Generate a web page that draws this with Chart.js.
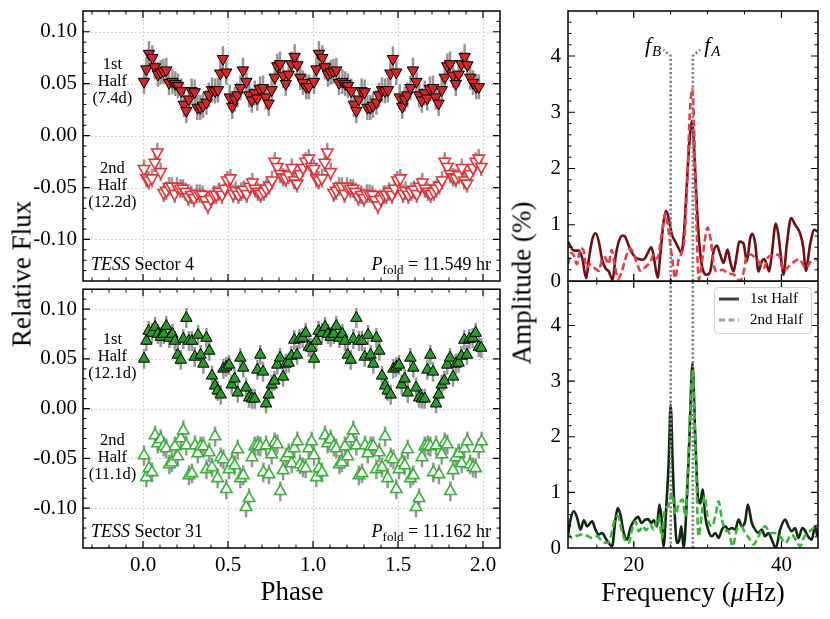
<!DOCTYPE html>
<html>
<head>
<meta charset="utf-8">
<script src="https://cdn.jsdelivr.net/npm/chart.js@4.4.1/dist/chart.umd.min.js"></script>
<style>
  body { margin: 0; background: #fff; }
  #page { position: relative; width: 830px; height: 619px; overflow: hidden; background: #fff; font-family: "Liberation Serif", serif; }
  canvas { position: absolute; }
  .title { position: absolute; font-size: 27px; white-space: nowrap; transform: translate(-50%, -50%); color: #000; }
  .rot { transform: translate(-50%, -50%) rotate(-90deg); }
</style>
</head>
<body>
<div id="page">
  <canvas id="fluxS4" width="520" height="300" style="left:0;top:0"></canvas>
  <canvas id="fluxS31" width="520" height="338" style="left:0;top:281px"></canvas>
  <canvas id="ampS4" width="310" height="300" style="left:520px;top:0"></canvas>
  <canvas id="ampS31" width="310" height="338" style="left:520px;top:281px"></canvas>
  <div class="title rot" style="left:22px;top:274px">Relative Flux</div>
  <div class="title" style="left:292px;top:591px">Phase</div>
  <div class="title rot" style="left:522px;top:283px">Amplitude (%)</div>
  <div class="title" style="left:693px;top:592px">Frequency (<i>μ</i>Hz)</div>
</div>
<script>
// tick labels
const phaseTicks = [0, 0.5, 1, 1.5, 2];
const fluxTicks = [-0.10, -0.05, 0, 0.05, 0.10];
const freqTicks = [20, 40];
const ampTicks = [0, 1, 2, 3, 4];

// Sector 4 folded light curves (one cycle)
const phaseS4a = [0.006,0.02,0.035,0.055,0.07,0.088,0.104,0.12,0.137,0.153,0.173,0.19,0.206,0.225,0.24,0.255,0.27,0.286,0.304,0.32,0.337,0.353,0.373,0.388,0.406,0.424,0.441,0.455,0.47,0.49,0.51,0.525,0.54,0.555,0.573,0.588,0.608,0.624,0.64,0.657,0.672,0.688,0.706,0.722,0.739,0.757,0.775,0.79,0.806,0.824,0.84,0.857,0.873,0.892,0.908,0.925,0.941,0.96,0.976];
const fluxS4a = [0.052,0.064,0.079,0.075,0.066,0.059,0.061,0.062,0.063,0.051,0.052,0.050,0.048,0.043,0.030,0.024,0.035,0.043,0.042,0.027,0.027,0.029,0.032,0.039,0.044,0.043,0.044,0.060,0.074,0.061,0.037,0.028,0.035,0.039,0.046,0.063,0.052,0.039,0.034,0.041,0.036,0.045,0.046,0.037,0.031,0.044,0.056,0.067,0.069,0.058,0.050,0.059,0.069,0.076,0.068,0.056,0.051,0.047,0.047];
const errS4a = 0.012;
const phaseS4b = [0.006,0.02,0.033,0.053,0.069,0.084,0.104,0.122,0.137,0.153,0.17,0.186,0.2,0.22,0.235,0.25,0.267,0.284,0.3,0.316,0.333,0.35,0.365,0.382,0.398,0.416,0.431,0.447,0.465,0.48,0.496,0.514,0.53,0.545,0.561,0.578,0.594,0.61,0.627,0.643,0.659,0.676,0.692,0.71,0.725,0.743,0.759,0.775,0.79,0.808,0.824,0.84,0.857,0.875,0.89,0.906,0.922,0.941,0.957,0.975,0.99];
const fluxS4b = [-0.032,-0.041,-0.043,-0.041,-0.026,-0.016,-0.035,-0.055,-0.053,-0.049,-0.049,-0.056,-0.049,-0.051,-0.051,-0.054,-0.059,-0.057,-0.060,-0.056,-0.056,-0.057,-0.062,-0.067,-0.061,-0.057,-0.057,-0.054,-0.057,-0.051,-0.043,-0.041,-0.056,-0.053,-0.057,-0.054,-0.052,-0.056,-0.049,-0.045,-0.051,-0.054,-0.056,-0.054,-0.051,-0.048,-0.043,-0.025,-0.030,-0.037,-0.040,-0.041,-0.038,-0.031,-0.043,-0.046,-0.037,-0.031,-0.025,-0.022,-0.030];
const errS4b = 0.009;

// Sector 31
const phaseS31a = [0.006,0.02,0.033,0.053,0.071,0.088,0.104,0.122,0.137,0.155,0.173,0.188,0.204,0.222,0.237,0.255,0.27,0.288,0.304,0.324,0.339,0.355,0.373,0.39,0.406,0.424,0.439,0.457,0.473,0.49,0.506,0.522,0.539,0.557,0.573,0.59,0.606,0.624,0.641,0.657,0.673,0.69,0.706,0.724,0.739,0.757,0.773,0.79,0.806,0.824,0.84,0.857,0.873,0.89,0.906,0.92,0.939,0.957,0.975,0.99];
const fluxS31a = [0.050,0.068,0.078,0.076,0.082,0.075,0.072,0.075,0.083,0.071,0.075,0.068,0.054,0.049,0.070,0.091,0.068,0.068,0.052,0.074,0.054,0.045,0.071,0.058,0.033,0.023,0.018,0.014,0.040,0.042,0.044,0.024,0.030,0.016,0.051,0.041,0.021,0.011,0.010,0.010,0.039,0.054,0.037,0.005,0.014,0.024,0.028,0.044,0.051,0.032,0.045,0.046,0.053,0.069,0.054,0.070,0.071,0.076,0.062,0.061];
const errS31a = 0.010;
const phaseS31b = [0.006,0.02,0.035,0.053,0.071,0.086,0.104,0.122,0.137,0.155,0.17,0.188,0.204,0.222,0.237,0.255,0.27,0.288,0.306,0.322,0.339,0.355,0.373,0.39,0.406,0.424,0.439,0.457,0.473,0.49,0.506,0.524,0.539,0.557,0.573,0.59,0.606,0.624,0.641,0.657,0.675,0.69,0.708,0.724,0.741,0.757,0.775,0.79,0.808,0.824,0.841,0.857,0.875,0.89,0.908,0.924,0.941,0.957,0.975,0.992];
const fluxS31b = [-0.047,-0.069,-0.060,-0.064,-0.027,-0.035,-0.031,-0.038,-0.040,-0.056,-0.054,-0.038,-0.048,-0.030,-0.022,-0.037,-0.067,-0.065,-0.037,-0.045,-0.038,-0.038,-0.061,-0.044,-0.059,-0.028,-0.070,-0.049,-0.051,-0.081,-0.061,-0.054,-0.057,-0.041,-0.070,-0.067,-0.099,-0.090,-0.049,-0.038,-0.037,-0.038,-0.064,-0.037,-0.066,-0.046,-0.034,-0.036,-0.083,-0.062,-0.049,-0.045,-0.055,-0.040,-0.033,-0.056,-0.059,-0.060,-0.040,-0.033];
const errS31b = 0.010;

// amplitude spectra (frequency in uHz, amplitude in %)
const freqS4a = [11.08,11.44,11.89,12.57,13.02,13.56,13.92,14.37,14.82,15.27,15.72,16.17,16.62,17.16,17.52,17.97,18.51,18.87,19.32,19.77,20.23,20.68,21.35,21.80,22.39,22.70,23.24,23.60,24.05,24.37,24.73,25.18,25.63,26.08,26.44,26.80,27.10,27.50,27.90,28.30,28.60,29.00,29.40,29.90,30.36,30.81,31.26,31.71,32.16,32.70,33.06,33.51,33.96,34.28,34.86,35.32,35.77,36.08,36.44,36.89,37.34,37.66,38.02,38.33,38.69,39.23,39.59,40.05,40.27,40.72,41.31,41.85,42.52,42.97,43.29,43.87,44.46,44.86];
const ampS4a = [0.70,0.62,0.54,0.54,0.41,0.05,0.38,0.73,0.85,0.70,0.38,0.23,0.17,0.02,0.41,0.70,0.81,0.78,0.63,0.50,0.42,0.39,0.38,0.47,0.60,0.44,0.06,0.47,1.06,1.25,1.12,0.82,0.70,0.58,0.50,0.85,1.50,2.40,2.85,2.00,1.20,0.50,0.18,0.11,0.17,0.52,0.63,0.47,0.32,0.56,0.35,0.17,0.47,0.70,0.67,0.35,0.76,0.84,0.67,0.17,0.35,0.39,0.29,0.17,0.47,1.02,0.82,0.29,0.11,0.64,1.12,1.00,0.85,0.59,0.18,0.64,0.91,0.88];
const freqS4b = [11.10,11.50,11.90,12.30,12.80,13.20,13.60,14.00,14.50,15.00,15.30,15.70,16.10,16.60,17.00,17.50,17.90,18.40,19.00,19.50,20.00,20.50,20.90,21.60,22.30,22.70,23.20,23.80,24.30,24.70,25.20,25.60,26.10,26.50,26.90,27.30,27.60,27.95,28.20,28.50,28.80,29.20,29.60,30.00,30.40,30.90,31.30,32.00,32.70,33.60,34.40,34.90,35.30,35.80,36.30,36.90,37.60,38.30,39.00,39.60,40.30,41.00,41.70,42.40,42.80,43.30,44.00,44.60,44.90];
const ampS4b = [0.30,0.50,0.45,0.30,0.58,0.55,0.23,0.30,0.25,0.20,0.18,0.39,0.42,0.30,0.55,0.23,0.04,0.18,0.45,0.58,0.48,0.29,0.18,0.25,0.35,0.47,0.40,0.85,1.20,0.90,0.40,0.05,0.40,0.50,0.80,2.00,3.00,3.42,2.60,1.00,0.02,0.30,0.70,0.95,0.75,0.25,0.17,0.20,0.14,0.11,0.00,0.17,0.45,0.47,0.43,0.35,0.23,0.44,0.45,0.47,0.18,0.26,0.34,0.39,0.32,0.23,0.35,0.39,0.37];
const freqS31a = [11.08,11.44,11.89,12.34,12.79,13.24,13.69,14.37,14.82,15.27,15.72,16.17,16.62,17.07,17.52,17.84,18.20,18.65,19.10,19.55,20.00,20.59,21.04,21.58,21.94,22.39,22.70,23.15,23.47,23.74,24.05,24.41,24.73,25.00,25.27,25.54,25.86,26.17,26.44,26.76,27.21,27.52,27.95,28.33,28.70,29.01,29.32,29.68,30.14,30.59,31.04,31.49,31.94,32.39,32.84,33.29,33.74,34.19,34.64,35.09,35.45,35.99,36.44,36.89,37.34,37.79,38.24,38.69,39.23,39.82,40.50,40.95,41.40,41.85,42.30,42.84,43.11,43.65,44.10,44.56,44.86];
const ampS31a = [0.21,0.51,0.66,0.54,0.33,0.50,0.39,0.48,0.33,0.24,0.27,0.18,0.09,0.03,0.51,0.72,0.60,0.27,0.15,0.36,0.48,0.56,0.45,0.51,0.52,0.45,0.50,0.39,0.78,0.57,0.03,0.75,1.53,2.58,1.53,0.63,0.09,0.15,0.39,0.00,0.93,1.90,3.32,2.00,0.90,0.80,1.05,0.57,0.30,0.21,0.27,0.18,0.33,0.39,0.33,0.36,0.33,0.51,0.39,0.48,0.78,0.45,0.33,0.27,0.33,0.21,0.27,0.15,0.00,0.33,0.51,0.39,0.30,0.36,0.18,0.36,0.33,0.20,0.15,0.39,0.21];
const freqS31b = [11.08,11.67,12.34,13.02,13.69,14.37,15.05,15.72,16.40,16.85,17.43,17.88,18.33,18.78,19.32,19.77,20.23,20.68,21.22,21.67,22.25,22.70,23.38,23.83,24.19,24.64,25.18,25.63,26.08,26.62,26.98,27.34,27.95,28.40,28.78,29.23,29.59,30.05,30.59,31.13,31.49,31.94,32.39,32.93,33.38,33.96,34.55,35.09,35.77,36.22,36.89,37.79,38.47,39.14,39.82,40.50,41.40,42.07,42.52,43.11,44.10,44.86];
const ampS31b = [0.27,0.18,0.22,0.24,0.22,0.18,0.21,0.12,0.09,0.18,0.51,0.57,0.33,0.15,0.09,0.33,0.48,0.30,0.39,0.32,0.42,0.33,0.57,0.18,0.69,0.75,0.99,0.60,0.78,0.87,0.57,1.40,3.20,1.60,0.21,0.63,0.93,0.51,0.39,0.63,0.84,0.51,0.33,0.27,0.03,0.33,0.39,0.27,0.15,0.06,0.21,0.39,0.27,0.27,0.21,0.09,0.24,0.12,0.03,0.21,0.33,0.42];

const fB = 25.0, fA = 28.0;   // marked frequencies

const serif = '"Liberation Serif", serif';
const tickFont = { family: '"Liberation Serif"', size: 21 };

// each point is shown twice: at its phase and one cycle later
function folded(phase, flux) {
  const pts = phase.map((p, i) => ({ x: p, y: flux[i] }));
  return pts.concat(phase.map((p, i) => ({ x: p + 1, y: flux[i] })));
}
function spec(freq, amp) {
  return freq.map((f, i) => ({ x: f, y: amp[i] }));
}
function steps(start, stop, step, skip) {
  const out = [];
  for (let v = start; v <= stop + 1e-9; v += step) {
    const r = +v.toFixed(4);
    if (!skip.some(s => Math.abs(s - r) < 1e-6)) out.push(r);
  }
  return out;
}

function axis(min, max, ticks, fmt, extra) {
  return Object.assign({
    type: 'linear', min, max,
    grid: { display: false, drawTicks: false },
    border: { display: false },
    afterBuildTicks: s => { s.ticks = ticks.map(v => ({ value: v })); },
    ticks: { font: tickFont, color: '#000', padding: 6, autoSkip: false, maxRotation: 0, callback: fmt }
  }, extra);
}
const yWidth = w => s => { s.width = w; s.paddingTop = 0; s.paddingBottom = 0; };
const xHeight = h => s => { s.height = h; s.paddingLeft = 0; s.paddingRight = 0; };

// frame, inward ticks on all sides, optional dotted grid, panel notes
function framePlugin(cfg) {
  return {
    id: 'frame',
    beforeDatasetsDraw(chart) {
      if (!cfg.grid) return;
      const { ctx, chartArea: a, scales: { x, y } } = chart;
      ctx.save();
      ctx.strokeStyle = '#c6c6c6';
      ctx.lineWidth = 1;
      ctx.setLineDash([1.5, 2.5]);
      cfg.xMajor.forEach(v => {
        const px = Math.round(x.getPixelForValue(v)) + 0.5;
        ctx.beginPath(); ctx.moveTo(px, a.top); ctx.lineTo(px, a.bottom); ctx.stroke();
      });
      cfg.yMajor.forEach(v => {
        const py = Math.round(y.getPixelForValue(v)) + 0.5;
        ctx.beginPath(); ctx.moveTo(a.left, py); ctx.lineTo(a.right, py); ctx.stroke();
      });
      ctx.restore();
    },
    afterDraw(chart) {
      const { ctx, chartArea: a, scales: { x, y } } = chart;
      ctx.save();
      ctx.strokeStyle = '#000';
      const inX = v => v > x.min + 1e-9 && v < x.max - 1e-9;
      const inY = v => v > y.min + 1e-9 && v < y.max - 1e-9;
      [[cfg.xMajor, 7, 1.2], [cfg.xMinor, 3.5, 1]].forEach(([vals, len, w]) => {
        ctx.lineWidth = w;
        vals.filter(inX).forEach(v => {
          const px = x.getPixelForValue(v);
          ctx.beginPath();
          ctx.moveTo(px, a.bottom); ctx.lineTo(px, a.bottom - len);
          ctx.moveTo(px, a.top); ctx.lineTo(px, a.top + len);
          ctx.stroke();
        });
      });
      [[cfg.yMajor, 7, 1.2], [cfg.yMinor, 3.5, 1]].forEach(([vals, len, w]) => {
        ctx.lineWidth = w;
        vals.filter(inY).forEach(v => {
          const py = y.getPixelForValue(v);
          ctx.beginPath();
          ctx.moveTo(a.left, py); ctx.lineTo(a.left + len, py);
          ctx.moveTo(a.right, py); ctx.lineTo(a.right - len, py);
          ctx.stroke();
        });
      });
      ctx.lineWidth = 1.5;
      ctx.strokeRect(a.left, a.top, a.right - a.left, a.bottom - a.top);
      if (cfg.notes) cfg.notes(ctx, a, x, y);
      ctx.restore();
    }
  };
}

const errorBars = {
  id: 'errorBars',
  beforeDatasetsDraw(chart) {
    const { ctx, chartArea: a, scales: { x, y } } = chart;
    ctx.save();
    ctx.beginPath(); ctx.rect(a.left, a.top, a.right - a.left, a.bottom - a.top); ctx.clip();
    ctx.strokeStyle = 'rgba(110,110,110,0.72)';
    ctx.lineWidth = 2.5;
    chart.data.datasets.forEach(ds => {
      ds.data.forEach(p => {
        const px = x.getPixelForValue(p.x);
        ctx.beginPath();
        ctx.moveTo(px, y.getPixelForValue(p.y - ds.err));
        ctx.lineTo(px, y.getPixelForValue(p.y + ds.err));
        ctx.stroke();
      });
    });
    ctx.restore();
  }
};

function halfLabels(ctx, x, y, lines, level) {
  ctx.fillStyle = '#000';
  ctx.font = '16.5px ' + serif;
  ctx.textAlign = 'center';
  ctx.textBaseline = 'middle';
  const px = x.getPixelForValue(-0.18), py = y.getPixelForValue(level);
  lines.forEach((t, i) => ctx.fillText(t, px, py + (i - 1) * 17));
}
function sectorLabel(ctx, a, sector, period) {
  const base = a.bottom - 11;
  ctx.fillStyle = '#000';
  ctx.textAlign = 'left';
  ctx.textBaseline = 'alphabetic';
  ctx.font = 'italic 18px ' + serif;
  ctx.fillText('TESS', a.left + 8, base);
  const w = ctx.measureText('TESS ').width;
  ctx.font = '18px ' + serif;
  ctx.fillText(sector, a.left + 8 + w, base);
  // P_fold = ... hr, right aligned
  const rest = ' = ' + period + ' hr';
  ctx.font = '18px ' + serif; const wRest = ctx.measureText(rest).width;
  ctx.font = '13px ' + serif; const wSub = ctx.measureText('fold').width;
  ctx.font = 'italic 18px ' + serif; const wP = ctx.measureText('P').width;
  let xp = a.right - 9 - wRest - wSub - wP;
  ctx.fillText('P', xp, base); xp += wP;
  ctx.font = '13px ' + serif; ctx.fillText('fold', xp, base + 4); xp += wSub;
  ctx.font = '18px ' + serif; ctx.fillText(rest, xp, base);
}

const phaseMinor = steps(-0.3, 2.1, 0.1, phaseTicks);
const fluxMinor = steps(-0.14, 0.12, 0.01, fluxTicks);
const freqMinor = [15, 25, 30, 35];
const ampMinor = steps(0, 4.8, 0.2, ampTicks);

const fmtFlux = v => (Math.abs(v) < 1e-9 ? 0 : v).toFixed(2);
const fmtPhase = v => v.toFixed(1);
const fmtInt = v => String(Math.round(v));

const base = {
  responsive: false, animation: false, events: [],
  plugins: { legend: { display: false }, tooltip: { enabled: false } }
};

function fluxChart(id, sets, last, notes) {
  return new Chart(document.getElementById(id), {
    type: 'scatter',
    data: { datasets: sets },
    options: Object.assign({}, base, {
      layout: { padding: { left: 0, top: last ? 0 : 11, right: 20, bottom: last ? 0 : 19 } },
      scales: {
        x: axis(-0.353, 2.1, phaseTicks, fmtPhase, last
          ? { afterFit: xHeight(71), ticks: { font: tickFont, color: '#000', padding: 5, autoSkip: false, maxRotation: 0, callback: fmtPhase } }
          : { display: false }),
        y: axis(-0.14, 0.12, fluxTicks, fmtFlux, { afterFit: yWidth(83) })
      }
    }),
    plugins: [framePlugin({ grid: true, xMajor: phaseTicks, xMinor: phaseMinor, yMajor: fluxTicks, yMinor: fluxMinor, notes }), errorBars]
  });
}

function marker(down, filled, color) {
  return {
    pointStyle: 'triangle', pointRotation: down ? 180 : 0, pointRadius: 6.6,
    pointBackgroundColor: filled ? color : '#ffffff',
    pointBorderColor: filled ? '#000000' : color,
    pointBorderWidth: filled ? 1 : 1.6
  };
}

fluxChart('fluxS4', [
  Object.assign({ data: folded(phaseS4a, fluxS4a), err: errS4a }, marker(true, true, '#d62728')),
  Object.assign({ data: folded(phaseS4b, fluxS4b), err: errS4b }, marker(true, false, '#e0363b'))
], false, (ctx, a, x, y) => {
  halfLabels(ctx, x, y, ['1st', 'Half', '(7.4d)'], 0.052);
  halfLabels(ctx, x, y, ['2nd', 'Half', '(12.2d)'], -0.048);
  sectorLabel(ctx, a, 'Sector 4', '11.549');
});

fluxChart('fluxS31', [
  Object.assign({ data: folded(phaseS31a, fluxS31a), err: errS31a }, marker(false, true, '#2a9a2a')),
  Object.assign({ data: folded(phaseS31b, fluxS31b), err: errS31b }, marker(false, false, '#3bb03b'))
], true, (ctx, a, x, y) => {
  halfLabels(ctx, x, y, ['1st', 'Half', '(12.1d)'], 0.0525);
  halfLabels(ctx, x, y, ['2nd', 'Half', '(11.1d)'], -0.049);
  sectorLabel(ctx, a, 'Sector 31', '11.162');
});

function freqMarks(top) {
  return {
    id: 'freqMarks',
    afterDatasetsDraw(chart) {
      const { ctx, chartArea: a, scales: { x, y } } = chart;
      ctx.save();
      ctx.strokeStyle = '#808080';
      ctx.lineWidth = 2.6;
      ctx.setLineDash([2.2, 2.2]);
      [[fB, -1], [fA, 1]].forEach(([f, side]) => {
        const px = x.getPixelForValue(f);
        ctx.beginPath();
        ctx.moveTo(px, a.bottom);
        if (top) {
          ctx.lineTo(px, y.getPixelForValue(4.0));
          ctx.lineTo(x.getPixelForValue(f + side * 1.0), y.getPixelForValue(4.11));
        } else {
          ctx.lineTo(px, a.top);
        }
        ctx.stroke();
      });
      ctx.setLineDash([]);
      if (top) {
        const yb = y.getPixelForValue(4.11) + 2;
        ctx.fillStyle = '#000';
        ctx.textBaseline = 'alphabetic';
        ctx.textAlign = 'left';
        ctx.font = 'italic 22px ' + serif; const wf = ctx.measureText('f').width;
        ctx.font = 'italic 15px ' + serif; const wb = ctx.measureText('B').width;
        let xl = x.getPixelForValue(fB - 1.0) - 3 - wb - wf;
        ctx.font = 'italic 22px ' + serif; ctx.fillText('f', xl, yb);
        ctx.font = 'italic 15px ' + serif; ctx.fillText('B', xl + wf + 1, yb + 4);
        xl = x.getPixelForValue(fA + 1.0) + 4;
        ctx.font = 'italic 22px ' + serif; ctx.fillText('f', xl, yb);
        ctx.font = 'italic 15px ' + serif; ctx.fillText('A', xl + wf + 1, yb + 4);
      }
      ctx.restore();
    }
  };
}

const legendBox = {
  id: 'legendBox',
  afterDraw(chart) {
    const { ctx, chartArea: a } = chart;
    const w = 97, h = 46, left = a.right - 7 - w, top = a.top + 6;
    ctx.save();
    ctx.fillStyle = 'rgba(255,255,255,0.85)';
    ctx.strokeStyle = '#d0d0d0';
    ctx.lineWidth = 1;
    ctx.beginPath();
    ctx.roundRect(left + 0.5, top + 0.5, w, h, 4);
    ctx.fill(); ctx.stroke();
    ctx.lineWidth = 3;
    ctx.strokeStyle = '#404040';
    ctx.beginPath(); ctx.moveTo(left + 5, top + 12); ctx.lineTo(left + 25, top + 12); ctx.stroke();
    ctx.strokeStyle = '#a0a0a0';
    ctx.setLineDash([6, 3.5]);
    ctx.beginPath(); ctx.moveTo(left + 5, top + 33); ctx.lineTo(left + 25, top + 33); ctx.stroke();
    ctx.setLineDash([]);
    ctx.fillStyle = '#000';
    ctx.font = '15px ' + serif;
    ctx.textBaseline = 'middle';
    ctx.fillText('1st Half', left + 36, top + 12);
    ctx.fillText('2nd Half', left + 36, top + 33);
    ctx.restore();
  }
};

function ampChart(id, solid, dashed, colors, last, extra) {
  return new Chart(document.getElementById(id), {
    type: 'line',
    data: {
      datasets: [
        { data: dashed, borderColor: colors[1], borderWidth: 2.6, borderDash: [7, 3.5], pointRadius: 0, cubicInterpolationMode: 'monotone', order: 1 },
        { data: solid, borderColor: colors[0], borderWidth: 2.6, pointRadius: 0, cubicInterpolationMode: 'monotone', order: 2 }
      ]
    },
    options: Object.assign({}, base, {
      layout: { padding: { left: 0, top: last ? 0 : 11, right: 12, bottom: last ? 0 : 19 } },
      scales: {
        x: axis(11.1, 44.95, freqTicks, fmtInt, last
          ? { afterFit: xHeight(71), ticks: { font: tickFont, color: '#000', padding: 5, autoSkip: false, maxRotation: 0, callback: fmtInt } }
          : { display: false }),
        y: axis(0, 4.8, ampTicks, fmtInt, { afterFit: yWidth(48), ticks: { font: tickFont, color: '#000', padding: 7, autoSkip: false, callback: fmtInt } })
      }
    }),
    plugins: [framePlugin({ grid: false, xMajor: freqTicks, xMinor: freqMinor, yMajor: ampTicks, yMinor: ampMinor })].concat(extra)
  });
}

ampChart('ampS4', spec(freqS4a, ampS4a), spec(freqS4b, ampS4b), ['#6b1014', '#e0404a'], false, [freqMarks(true)]);
ampChart('ampS31', spec(freqS31a, ampS31a), spec(freqS31b, ampS31b), ['#10290f', '#3cb43c'], true, [freqMarks(false), legendBox]);
</script>
</body>
</html>
